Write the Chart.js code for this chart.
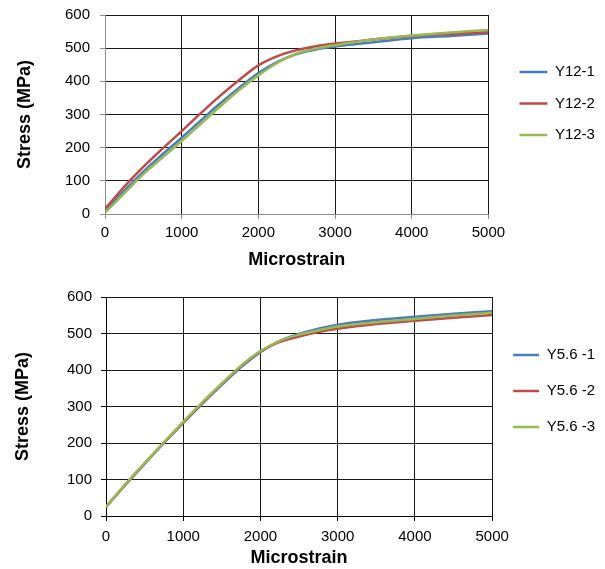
<!DOCTYPE html>
<html>
<head>
<meta charset="utf-8">
<script src="https://cdn.jsdelivr.net/npm/chart.js@4.4.1/dist/chart.umd.min.js"></script>
<style>
  html, body { margin: 0; padding: 0; background: #fff; }
  #wrap { position: relative; width: 605px; height: 569px; }
  canvas { position: absolute; left: 0; }
</style>
</head>
<body>
<div id="wrap">
  <canvas id="chartTop" width="605" height="285" style="top:0"></canvas>
  <canvas id="chartBottom" width="605" height="284" style="top:285px"></canvas>
</div>
<script>
// Microstrain readings (shared x values)
const strainPoints = [0, 250, 500, 750, 1000, 1250, 1500, 1750, 2000, 2250, 2500, 2750, 3000, 3500, 4000, 4500, 5000];

// Top chart: Y12 specimens, stress in MPa
const y12Labels = ['Y12-1', 'Y12-2', 'Y12-3'];
const y12_1 = [8, 70, 128, 180, 230, 282, 333, 381, 425, 459, 482, 496, 505, 518, 530, 537, 544];
const y12_2 = [15, 82, 142, 197, 250, 304, 356, 404, 448, 476, 494, 506, 514, 526, 537, 543, 548];
const y12_3 = [4, 62, 120, 170, 220, 272, 324, 374, 418, 456, 484, 499, 509, 526, 538, 547, 555];

// Bottom chart: Y5.6 specimens, stress in MPa
const y56Labels = ['Y5.6 -1', 'Y5.6 -2', 'Y5.6 -3'];
const y56_1 = [25, 85, 143, 200, 255, 308, 359, 408, 449, 480, 499, 513, 524, 537, 546, 554, 561];
const y56_2 = [25, 86, 144, 201, 256, 310, 362, 411, 451, 477, 492, 504, 513, 526, 535, 543, 551];
const y56_3 = [25, 87, 145, 202, 258, 312, 363, 412, 452, 480, 497, 509, 519, 531, 540, 549, 557];

const xTicks = [0, 1000, 2000, 3000, 4000, 5000];
const yTicks = [0, 100, 200, 300, 400, 500, 600];

const colors = ['#4a7ebb', '#be4b48', '#98b954'];
const FONT = '"Liberation Sans", Arial, sans-serif';

function buildChart(id, cfg) {
    const ctx = document.getElementById(id).getContext('2d');
    const datasets = cfg.series.map((vals, i) => ({
        label: cfg.labels[i],
        data: strainPoints.map((x, k) => ({ x: x, y: vals[k] })),
        borderColor: colors[i],
        backgroundColor: colors[i],
        borderWidth: 2.5,
        pointRadius: 0,
        cubicInterpolationMode: 'monotone',
        fill: false,
        order: cfg.series.length - i   // last series drawn on top, like Excel
    }));
    const gridColor = c => (c.tick && c.tick.value === 0 ? cfg.axisColor : '#1a1a1a');

    return new Chart(ctx, {
        type: 'line',
        data: { datasets },
        options: {
            responsive: false,
            animation: false,
            events: [],
            layout: { padding: { top: cfg.padTop, right: cfg.padRight, bottom: 0, left: 0 } },
            plugins: {
                tooltip: { enabled: false },
                legend: {
                    position: 'right',
                    align: 'start',
                    fullSize: false,
                    // empty title only used to push the items down
                    title: { display: true, text: '', padding: { top: cfg.legendTop, bottom: 0 } },
                    labels: {
                        usePointStyle: true,
                        pointStyle: 'line',
                        pointStyleWidth: cfg.sampleWidth,
                        padding: cfg.legendPad,
                        color: '#000',
                        sort: (a, b) => a.datasetIndex - b.datasetIndex,
                        font: { family: FONT, size: 15 }
                    }
                }
            },
            scales: {
                x: {
                    type: 'linear',
                    min: 0, max: 5000,
                    afterBuildTicks: s => { s.ticks = xTicks.map(v => ({ value: v })); },
                    afterFit: s => { s.height = cfg.xHeight; },
                    ticks: { color: '#000', padding: cfg.xTickPad, maxRotation: 0,
                             callback: v => String(v),
                             font: { family: FONT, size: 15 } },
                    grid: { color: gridColor, tickColor: cfg.axisColor, tickLength: 5, lineWidth: 1 },
                    border: { color: cfg.axisColor, width: 1 },
                    title: { display: true, text: 'Microstrain', color: '#000',
                             padding: { top: 0, bottom: cfg.xTitlePad },
                             font: { family: FONT, size: 18, weight: 'bold' } }
                },
                y: {
                    min: 0, max: 600,
                    afterBuildTicks: s => { s.ticks = yTicks.map(v => ({ value: v })); },
                    afterFit: s => {
                        s.width = cfg.yWidth;
                        s.paddingTop = 0;
                        s.paddingBottom = 0;
                    },
                    ticks: { color: '#000', padding: cfg.yTickPad,
                             callback: v => String(v),
                             font: { family: FONT, size: 15 } },
                    grid: { color: gridColor, tickColor: cfg.axisColor, tickLength: 5, lineWidth: 1 },
                    border: { color: cfg.axisColor, width: 1 },
                    title: { display: true, text: 'Stress (MPa)', color: '#000',
                             padding: { top: cfg.yTitlePad, bottom: 0 },
                             font: { family: FONT, size: 18, weight: 'bold' } }
                },
                gap: {
                    type: 'linear',
                    position: 'right',
                    display: cfg.gap > 0,
                    grid: { display: false },
                    border: { display: false },
                    ticks: { display: false },
                    afterFit: s => { s.width = cfg.gap; }
                }
            }
        }
    });
}

buildChart('chartTop', {
    labels: y12Labels,
    series: [y12_1, y12_2, y12_3],
    axisColor: '#8c8c8c',
    padTop: 15, padRight: 1.5,
    xHeight: 71, xTickPad: 5, xTitlePad: 14,
    yWidth: 105, yTickPad: 10, yTitlePad: 14,
    legendPad: 16.5, legendTop: 18.6, sampleWidth: 28,
    gap: 14.5
});

buildChart('chartBottom', {
    labels: y56Labels,
    series: [y56_1, y56_2, y56_3],
    axisColor: '#000',
    padTop: 12, padRight: 0,
    xHeight: 53, xTickPad: 7, xTitlePad: 0,
    yWidth: 106, yTickPad: 9, yTitlePad: 12,
    legendPad: 21, legendTop: 15.1, sampleWidth: 26,
    gap: 0
});
</script>
</body>
</html>
